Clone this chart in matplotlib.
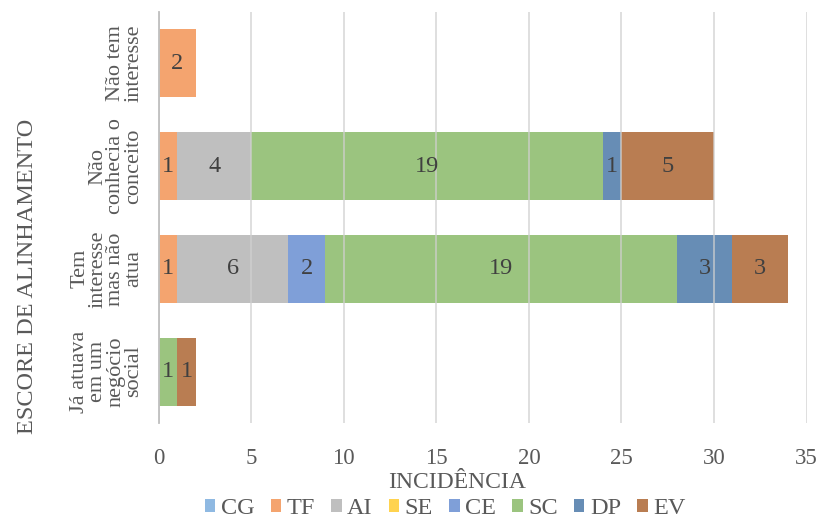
import matplotlib
matplotlib.use("Agg")
import matplotlib.pyplot as plt
import numpy as np

categories = ["Já atuava\nem um\nnegócio\nsocial",
              "Tem\ninteresse\nmas não\natua",
              "Não\nconhecia o\nconceito",
              "Não tem\ninteresse"]
series_names = ["CG", "TF", "AI", "SE", "CE", "SC", "DP", "EV"]
CG = [0, 0, 0, 0]
TF = [0, 1, 1, 2]
AI = [0, 6, 4, 0]
SE = [0, 0, 0, 0]
CE = [0, 2, 0, 0]
SC = [1, 19, 19, 0]
DP = [0, 3, 1, 0]
EV = [1, 3, 5, 0]
series_values = [CG, TF, AI, SE, CE, SC, DP, EV]
colors = ["#8FB9E2", "#F4A46F", "#BFBFBF", "#FFD34F", "#7F9FD8", "#9BC47F", "#678DB5", "#B97D52"]
xticks = [0, 5, 10, 15, 20, 25, 30, 35]

plt.rcParams['font.family'] = ['Liberation Serif', 'DejaVu Serif']

fig = plt.figure(figsize=(8.17, 5.19), dpi=100)
ax = fig.add_axes([0.1942, 0.185, 0.793, 0.792])

y = np.arange(len(categories))
left = np.zeros(len(categories))
for name, vals, c in zip(series_names, series_values, colors):
    vals = np.array(vals, dtype=float)
    ax.barh(y, vals, left=left, height=0.66, color=c, label=name, zorder=2)
    for i, v in enumerate(vals):
        if v > 0:
            ax.text(left[i] + v / 2, y[i], f"{int(v)}", ha="center", va="center",
                    fontsize=17.5, color="#404040", zorder=4)
    left += vals

ax.set_xlim(0, 35)
ax.set_ylim(-0.5, 3.5)
ax.set_xticks(xticks)
ax.set_xticklabels([str(t) for t in xticks])
ax.set_yticks(y)
ax.set_yticklabels(categories, rotation=90, va="center", ha="right", multialignment="center",
                   fontsize=16, color="#595959", linespacing=0.93)
ax.tick_params(axis="y", length=0, pad=11)
ax.tick_params(axis="x", length=0, labelsize=16.5, labelcolor="#595959", pad=18)
ax.grid(axis="x", color="#D0D0D0", linewidth=1.2, alpha=0.8, zorder=3)
ax.set_axisbelow(False)
for s in ["top", "right", "bottom"]:
    ax.spines[s].set_visible(False)
ax.spines["left"].set_color("#BFBFBF")
ax.spines["left"].set_linewidth(1.3)
ax.spines["left"].set_zorder(5)

fig.text(0.559, 0.0694, "INCIDÊNCIA", ha="center", va="center", fontsize=17, color="#595959")
fig.text(0.034, 0.468, "ESCORE DE ALINHAMENTO", rotation=90, ha="center", va="center",
         fontsize=17.5, color="#595959")

leg = fig.legend(loc="center", bbox_to_anchor=(0.545, 0.0193), ncol=8, frameon=False,
                 fontsize=17.5, handlelength=0.43, handleheight=0.43, handletextpad=0.23,
                 columnspacing=0.66, labelcolor="#595959", borderpad=0)

fig.savefig("out.png", dpi=100)
